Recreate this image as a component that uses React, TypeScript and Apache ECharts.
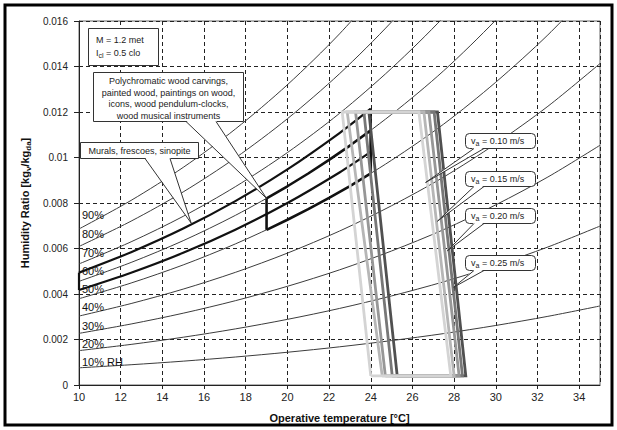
import React, { useEffect, useRef } from "react";
import * as echarts from "echarts";

// ---------- data ----------
const temps = [10, 12.5, 15, 17.5, 20, 22.5, 25, 27.5, 30, 32.5, 35];
const rh10 = [0.000755, 0.000891, 0.001048, 0.00123, 0.001439, 0.001678, 0.001952, 0.00226, 0.002617, 0.003018, 0.003474];
const rh20 = [0.001511, 0.001785, 0.0021, 0.002465, 0.002885, 0.003365, 0.003915, 0.004537, 0.005257, 0.006066, 0.006986];
const rh30 = [0.00227, 0.002682, 0.003156, 0.003705, 0.004338, 0.005061, 0.005891, 0.006831, 0.007919, 0.009143, 0.010538];
const rh40 = [0.00303, 0.003581, 0.004215, 0.00495, 0.005797, 0.006766, 0.00788, 0.009141, 0.010604, 0.012251, 0.014131];
const rh50 = [0.003792, 0.004483, 0.005278, 0.0062, 0.007263, 0.008481, 0.009881, 0.011469, 0.013311, 0.01539, 0.017765];
const rh60 = [0.004556, 0.005387, 0.006344, 0.007455, 0.008736, 0.010205, 0.011895, 0.013814, 0.016042, 0.01856];
const rh70 = [0.005322, 0.006294, 0.007414, 0.008715, 0.010216, 0.011939, 0.013922, 0.016176, 0.018797];
const rh80 = [0.00609, 0.007203, 0.008487, 0.00998, 0.011703, 0.013682, 0.015962, 0.018556];
const rh90 = [0.006859, 0.008115, 0.009565, 0.011249, 0.013197, 0.015434, 0.018015];
const rhCurves = [rh10, rh20, rh30, rh40, rh50, rh60, rh70, rh80, rh90];
const rhNames = ["10% RH", "20%", "30%", "40%", "50%", "60%", "70%", "80%", "90%"];
const rhLabelW = [0.00099, 0.0018, 0.00259, 0.00343, 0.00422, 0.00501, 0.00582, 0.00664, 0.00747];

// Murals, frescoes, sinopite: 10–24 °C, 55–65 % RH
const muralTemps = [10, 12.5, 15, 17.5, 20, 22.5, 24];
const mural65 = [0.004939, 0.00584, 0.006879, 0.008084, 0.009475, 0.011071, 0.012144];
const mural55 = [0.004174, 0.004934, 0.00581, 0.006827, 0.007999, 0.009342, 0.010244];

// Polychromatic wood: 19–24 °C, 50–60 % RH
const polyTemps = [19, 20, 21, 22, 23, 24];
const poly60 = [0.008202, 0.008736, 0.009297, 0.009897, 0.010525, 0.011192];
const poly50 = [0.00682, 0.007263, 0.007728, 0.008226, 0.008746, 0.009299];

// Comfort zones (operative temperature at top / bottom of each boundary)
const zoneTopW = 0.012;
const zoneBottomW = 0.0004;
const zoneLeftTop = [22.63, 22.87, 23.27, 23.67, 23.91];
const zoneLeftBottom = [24.0, 24.55, 24.7, 25.03, 25.27];
const zoneRightTop = [26.31, 26.55, 26.79, 27.04, 27.2];
const zoneRightBottom = [27.84, 28.0, 28.24, 28.4, 28.56];
const zoneColors = ["#d4d4d4", "#b6b6b6", "#979797", "#777777", "#505050"];

// Air velocity callouts
const velocityLabels = ["0.10", "0.15", "0.20", "0.25"];
const velocityTipT = [26.63, 27.2, 27.68, 27.98];
const velocityTipW = [0.0089, 0.0072, 0.0059, 0.0043];

const xTickLabels = ["10", "12", "14", "16", "18", "20", "22", "24", "26", "28", "30", "32", "34"];
const yTickLabels = ["0", "0.002", "0.004", "0.006", "0.008", "0.01", "0.012", "0.014", "0.016"];

const FONT = "'Liberation Sans', Arial, Helvetica, sans-serif";

const pair = (xs: number[], ys: number[]) => ys.map((y, i) => [xs[i], y]);

export default function App() {
  const ref = useRef<HTMLDivElement>(null);

  useEffect(() => {
    const chart = echarts.init(ref.current!, null, { renderer: "svg" });

    const series: any[] = [];
    rhCurves.forEach((c, i) => {
      series.push({
        type: "line",
        name: rhNames[i],
        data: pair(temps, c),
        smooth: 0.3,
        symbol: "none",
        silent: true,
        clip: true,
        lineStyle: { color: "#3c3c3c", width: 1 },
        z: 2,
      });
    });

    // murals polygon
    const thick = { color: "#111", width: 2.2 };
    series.push(
      { type: "line", data: pair(muralTemps, mural65), smooth: 0.3, symbol: "none", silent: true, lineStyle: thick, z: 3 },
      { type: "line", data: pair(muralTemps, mural55), smooth: 0.3, symbol: "none", silent: true, lineStyle: thick, z: 3 },
      { type: "line", data: [[muralTemps[0], mural55[0]], [muralTemps[0], mural65[0]]], symbol: "none", silent: true, lineStyle: thick, z: 3 },
      {
        type: "line",
        data: [[muralTemps[muralTemps.length - 1], mural55[mural55.length - 1]], [muralTemps[muralTemps.length - 1], mural65[mural65.length - 1]]],
        symbol: "none", silent: true, lineStyle: thick, z: 3,
      }
    );
    // polychrome polygon
    const thick2 = { color: "#111", width: 2.6 };
    series.push(
      { type: "line", data: pair(polyTemps, poly60), symbol: "none", silent: true, lineStyle: thick2, z: 3 },
      { type: "line", data: pair(polyTemps, poly50), symbol: "none", silent: true, lineStyle: thick2, z: 3 },
      { type: "line", data: [[polyTemps[0], poly50[0]], [polyTemps[0], poly60[0]]], symbol: "none", silent: true, lineStyle: thick2, z: 3 },
      {
        type: "line",
        data: [[polyTemps[polyTemps.length - 1], poly50[poly50.length - 1]], [polyTemps[polyTemps.length - 1], poly60[poly60.length - 1]]],
        symbol: "none", silent: true, lineStyle: thick2, z: 3,
      }
    );

    // comfort zones, darkest first so the lightest sits on top
    for (let k = zoneColors.length - 1; k >= 0; k--) {
      series.push({
        type: "line",
        data: [
          [zoneLeftBottom[k], zoneBottomW],
          [zoneLeftTop[k], zoneTopW],
          [zoneRightTop[k], zoneTopW],
          [zoneRightBottom[k], zoneBottomW],
          [zoneLeftBottom[k], zoneBottomW],
        ],
        symbol: "none",
        silent: true,
        lineStyle: { color: zoneColors[k], width: 2.8, join: "miter" },
        z: 4,
      });
    }

    const option: any = {
      animation: false,
      backgroundColor: "#fff",
      textStyle: { fontFamily: FONT },
      grid: {
        left: 79,
        top: 21,
        right: 17,
        bottom: 45,
        show: true,
        borderColor: "#666",
        borderWidth: 1,
        backgroundColor: "transparent",
      },
      xAxis: {
        type: "value",
        min: 10,
        max: 35,
        interval: 2,
        name: "Operative temperature [°C]",
        nameLocation: "middle",
        nameGap: 27,
        nameTextStyle: { fontFamily: FONT, fontSize: 11, fontWeight: "bold", color: "#111" },
        axisLine: { show: true, lineStyle: { color: "#222", width: 1 } },
        axisTick: { show: true, inside: false, length: 4, lineStyle: { color: "#222" } },
        axisLabel: {
          margin: 6,
          fontFamily: FONT,
          fontSize: 11,
          color: "#222",
          showMaxLabel: false,
          formatter: (v: number) => xTickLabels[Math.round((v - 10) / 2)] ?? "",
        },
        splitLine: { show: true, lineStyle: { color: "#222", width: 1, type: [4, 3] } },
      },
      yAxis: {
        type: "value",
        min: 0,
        max: 0.016,
        interval: 0.002,
        name: "{b|Humidity Ratio [kg}{s|v}{b|/kg}{s|da}{b|]}",
        nameLocation: "middle",
        nameGap: 45,
        nameTextStyle: {
          rich: {
            b: { fontFamily: FONT, fontSize: 11, fontWeight: "bold", color: "#111", lineHeight: 14 },
            s: { fontFamily: FONT, fontSize: 8, fontWeight: "bold", color: "#111", lineHeight: 14, verticalAlign: "bottom" },
          },
        },
        axisLine: { show: true, lineStyle: { color: "#222", width: 1 } },
        axisTick: { show: true, inside: false, length: 5, lineStyle: { color: "#222" } },
        axisLabel: {
          margin: 11,
          fontFamily: FONT,
          fontSize: 10,
          color: "#222",
          formatter: (v: number) => yTickLabels[Math.round(v / 0.002)] ?? "",
        },
        splitLine: { show: true, lineStyle: { color: "#222", width: 1, type: [4, 3] } },
      },
      series,
    };

    chart.setOption(option);

    const P = (t: number, w: number) => chart.convertToPixel({ gridIndex: 0 }, [t, w]) as number[];
    const stroke = "#333";
    const elements: any[] = [];

    // RH labels next to the left axis
    rhLabelW.forEach((w, i) => {
      const p = P(10, w);
      elements.push({
        type: "text",
        z: 90,
        silent: true,
        style: { text: rhNames[i], x: p[0] + 3, y: p[1], verticalAlign: "middle", fontFamily: FONT, fontSize: 11, fill: "#111", stroke: "none", lineWidth: 0 },
      });
    });

    const callout = (box: { x: number; y: number; w: number; h: number; r: number }, b1: number[], b2: number[], tip: number[]) => {
      elements.push({
        type: "rect",
        z: 100,
        shape: { x: box.x, y: box.y, width: box.w, height: box.h, r: box.r },
        style: { fill: "#fff", stroke, lineWidth: 1 },
      });
      elements.push({
        type: "polygon",
        z: 101,
        shape: { points: [[b1[0], b1[1] - 1], tip, [b2[0], b2[1] - 1]] },
        style: { fill: "#fff", stroke: null },
      });
      elements.push({
        type: "polyline",
        z: 102,
        shape: { points: [b1, tip, b2] },
        style: { stroke, lineWidth: 1, fill: null },
      });
    };

    // M / Icl box
    elements.push({
      type: "rect",
      z: 100,
      shape: { x: 88.5, y: 28.5, width: 70, height: 37 },
      style: { fill: "#fff", stroke, lineWidth: 1 },
    });
    elements.push({
      type: "text",
      z: 103,
      style: { text: "M = 1.2 met", x: 96, y: 40, fontFamily: FONT, fontSize: 9, fill: "#222", verticalAlign: "middle" },
    });
    elements.push({
      type: "text",
      z: 103,
      style: {
        text: "{t|I}{s|cl}{t| = 0.5 clo}",
        x: 96,
        y: 53,
        verticalAlign: "middle",
        rich: {
          t: { fontFamily: FONT, fontSize: 9, fill: "#222", lineHeight: 12 },
          s: { fontFamily: FONT, fontSize: 7, fill: "#222", lineHeight: 12, verticalAlign: "bottom" },
        },
      },
    });

    // Polychromatic callout
    const polyTip = P(polyTemps[0], poly60[0]);
    callout({ x: 93.5, y: 72.5, w: 150, h: 49, r: 0 }, [186, 121.5], [216, 121.5], polyTip);
    const polyLines = [
      "Polychromatic wood carvings,",
      "painted wood, paintings on wood,",
      "icons, wood pendulum-clocks,",
      "wood musical instruments",
    ];
    polyLines.forEach((s, i) => {
      elements.push({
        type: "text",
        z: 103,
        style: { text: s, x: 168.5, y: 81 + i * 11.5, align: "center", verticalAlign: "middle", fontFamily: FONT, fontSize: 9, fill: "#222" },
      });
    });

    // Murals callout
    const muralTip = P(15.38, 0.00712);
    callout({ x: 80.5, y: 142.5, w: 118, h: 16, r: 0 }, [145, 158.5], [170, 158.5], muralTip);
    elements.push({
      type: "text",
      z: 103,
      style: { text: "Murals, frescoes, sinopite", x: 139.5, y: 151, align: "center", verticalAlign: "middle", fontFamily: FONT, fontSize: 9, fill: "#222" },
    });

    // Velocity callouts
    const vBoxY = [133, 171, 208, 255];
    velocityLabels.forEach((lab, i) => {
      const tip = P(velocityTipT[i], velocityTipW[i]);
      const y = vBoxY[i] + 0.5;
      callout({ x: 465.5, y, w: 70, h: 15, r: 4 }, [474, y + 15], [484, y + 15], tip);
      elements.push({
        type: "text",
        z: 103,
        style: {
          text: `{t|v}{s|a}{t| = ${lab} m/s}`,
          x: 471,
          y: y + 7.5,
          verticalAlign: "middle",
          rich: {
            t: { fontFamily: FONT, fontSize: 9, fill: "#222", lineHeight: 12 },
            s: { fontFamily: FONT, fontSize: 7, fill: "#222", lineHeight: 12, verticalAlign: "bottom" },
          },
        },
      });
    });

    // outer frame
    elements.push({
      type: "rect",
      z: 110,
      shape: { x: 5, y: 5, width: 607, height: 420 },
      style: { fill: null, stroke: "#000", lineWidth: 3 },
    });

    chart.setOption({ graphic: { elements } });

    return () => chart.dispose();
  }, []);

  return (
    <div
      ref={ref}
      style={{ position: "fixed", left: 0, top: 0, width: 617, height: 430, background: "#fff" }}
    />
  );
}
